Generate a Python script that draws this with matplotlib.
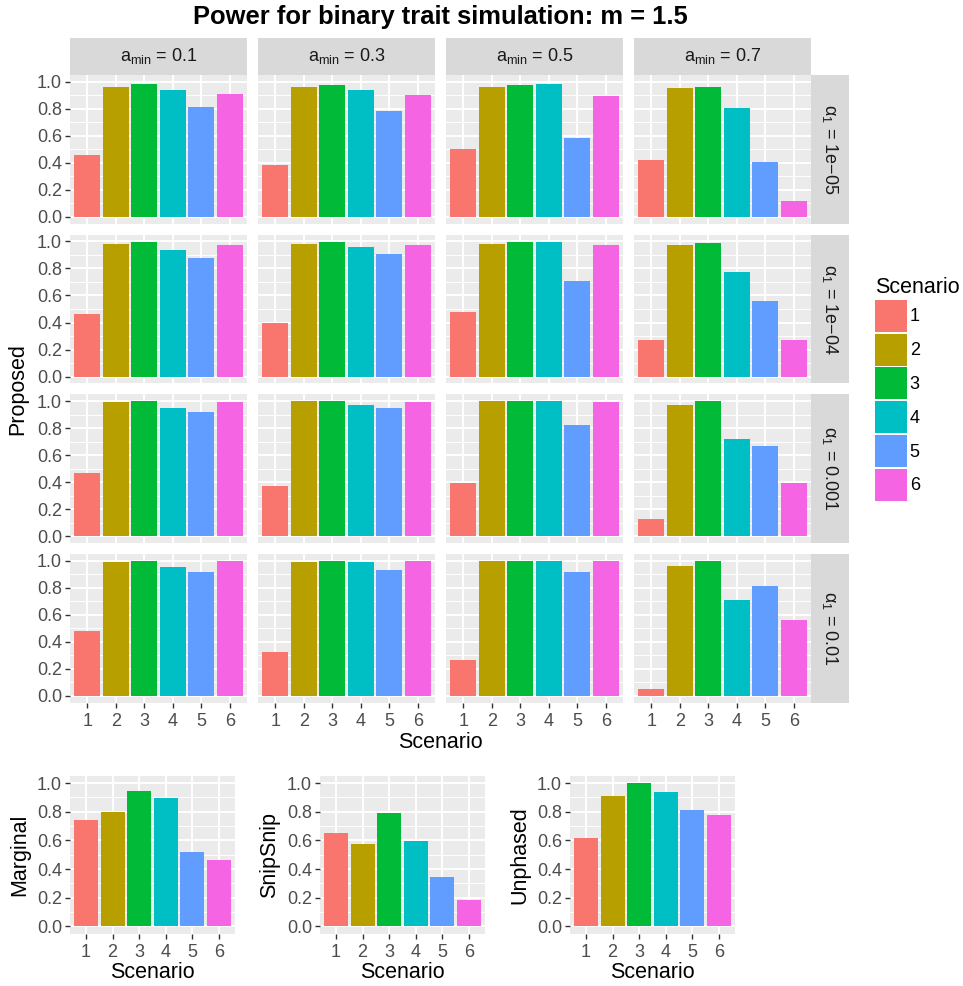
import matplotlib
matplotlib.use("Agg")
import matplotlib.pyplot as plt
from matplotlib.patches import Patch

plt.rcParams['font.family'] = ['Liberation Sans', 'DejaVu Sans']
plt.rcParams['mathtext.fontset'] = 'custom'
plt.rcParams['mathtext.rm'] = 'Liberation Sans'
plt.rcParams['mathtext.it'] = 'Liberation Sans:italic'
plt.rcParams['mathtext.bf'] = 'Liberation Sans:bold'

scenarios = [1, 2, 3, 4, 5, 6]
colors = ['#F8766D', '#B79F00', '#00BA38', '#00BFC4', '#619CFF', '#F564E3']
a_min = ['0.1', '0.3', '0.5', '0.7']
alpha1 = ['1e\u221205', '1e\u221204', '0.001', '0.01']

# power of the proposed test, one list per a_min column
proposed_1e05 = [[0.46, 0.96, 0.983, 0.939, 0.813, 0.909],
                 [0.386, 0.961, 0.975, 0.939, 0.784, 0.902],
                 [0.504, 0.961, 0.975, 0.983, 0.585, 0.894],
                 [0.423, 0.953, 0.961, 0.806, 0.408, 0.12]]
proposed_1e04 = [[0.464, 0.983, 0.998, 0.938, 0.879, 0.975],
                 [0.398, 0.983, 0.998, 0.96, 0.909, 0.975],
                 [0.479, 0.983, 0.998, 0.998, 0.709, 0.975],
                 [0.272, 0.975, 0.99, 0.775, 0.56, 0.272]]
proposed_1e03 = [[0.469, 0.993, 1.0, 0.948, 0.919, 0.993],
                 [0.373, 1.0, 1.0, 0.97, 0.948, 0.993],
                 [0.396, 1.0, 1.0, 1.0, 0.823, 0.993],
                 [0.13, 0.97, 1.0, 0.72, 0.668, 0.396]]
proposed_1e02 = [[0.481, 0.993, 1.0, 0.956, 0.919, 1.0],
                 [0.326, 0.993, 1.0, 0.993, 0.933, 1.0],
                 [0.267, 1.0, 1.0, 1.0, 0.919, 1.0],
                 [0.052, 0.963, 1.0, 0.711, 0.815, 0.563]]
proposed = [proposed_1e05, proposed_1e04, proposed_1e03, proposed_1e02]

marginal = [0.744, 0.8, 0.946, 0.897, 0.52, 0.464]
snipsnip = [0.653, 0.576, 0.793, 0.597, 0.345, 0.184]
unphased = [0.618, 0.911, 1.0, 0.939, 0.814, 0.779]

W, H = 963, 986
fig = plt.figure(figsize=(W / 100, H / 100), dpi=100)


def rect(x0, y0, w, h):
    # pixel box (from top-left) -> figure fraction
    return [x0 / W, 1 - (y0 + h) / H, w / W, h / H]


def fig_xy(x, y):
    return x / W, 1 - y / H


def style_panel(ax, show_x, show_y):
    ax.set_facecolor('#EBEBEB')
    for s in ax.spines.values():
        s.set_visible(False)
    ax.set_xlim(0.4, 6.6)
    ax.set_ylim(-0.05, 1.05)
    ax.set_xticks(scenarios)
    ax.set_yticks([0, 0.2, 0.4, 0.6, 0.8, 1.0])
    ax.set_yticks([0.1, 0.3, 0.5, 0.7, 0.9], minor=True)
    ax.grid(which='major', color='white', lw=1.4)
    ax.grid(which='minor', axis='y', color='white', lw=0.7)
    ax.set_axisbelow(True)
    ax.tick_params(which='minor', length=0)
    ax.tick_params(which='major', length=3.6, width=1.0, color='#333333',
                   labelcolor='#4D4D4D', labelsize=13, pad=2.2)
    ax.tick_params(axis='x', pad=3.8)
    if show_y:
        ax.set_yticklabels(['0.0', '0.2', '0.4', '0.6', '0.8', '1.0'])
    else:
        ax.tick_params(axis='y', left=False, labelleft=False)
    if not show_x:
        ax.tick_params(axis='x', bottom=False, labelbottom=False)


col_x = [70, 258, 446, 634]
pw = 177
ph = 148.6
row_y = [75 + i * 159.7 for i in range(4)]

for i in range(4):
    for j in range(4):
        ax = fig.add_axes(rect(col_x[j], row_y[i], pw, ph))
        ax.bar(scenarios, proposed[i][j], width=0.9, color=colors, linewidth=0)
        style_panel(ax, show_x=(i == 3), show_y=(j == 0))

# facet strips along the top
for j in range(4):
    sax = fig.add_axes(rect(col_x[j], 38, pw, 37))
    sax.set_facecolor('#D9D9D9')
    sax.set_xticks([])
    sax.set_yticks([])
    for s in sax.spines.values():
        s.set_visible(False)
    sax.text(0.5, 0.5, r'a$_{\mathrm{min}}$ = ' + a_min[j], ha='center', va='center',
             fontsize=13, color='#1A1A1A', transform=sax.transAxes)

# facet strips on the right
for i in range(4):
    sax = fig.add_axes(rect(811, row_y[i], 38, ph))
    sax.set_facecolor('#D9D9D9')
    sax.set_xticks([])
    sax.set_yticks([])
    for s in sax.spines.values():
        s.set_visible(False)
    sax.text(0.5, 0.5, r'$\mathrm{\alpha}_1$ = ' + alpha1[i], ha='center', va='center',
             rotation=270, fontsize=13, color='#1A1A1A', transform=sax.transAxes)

fig.text(*fig_xy(440, 17), 'Power for binary trait simulation: m = 1.5', ha='center',
         va='center', fontsize=18.4, fontweight='bold')
fig.text(*fig_xy(18, 389), 'Proposed', rotation=90, ha='center', va='center', fontsize=15.5)
fig.text(*fig_xy(440, 742), 'Scenario', ha='center', va='center', fontsize=15.5)

# legend
handles = [Patch(facecolor=c, label=str(s)) for s, c in zip(scenarios, colors)]
leg = fig.legend(handles=handles, title='Scenario', loc='upper left',
                 bbox_to_anchor=fig_xy(875, 277), borderaxespad=0,
                 frameon=False, fontsize=13, title_fontsize=15.5,
                 handlelength=1.77, handleheight=2.35, labelspacing=0.1,
                 handletextpad=0.15, borderpad=0, alignment='left')

# comparison methods
others = [('Marginal', marginal, 70, 20), ('SnipSnip', snipsnip, 320, 270),
          ('Unphased', unphased, 570, 520)]
for name, vals, x0, lx in others:
    ax = fig.add_axes(rect(x0, 776, 165, 157.5))
    ax.bar(scenarios, vals, width=0.9, color=colors, linewidth=0)
    style_panel(ax, show_x=True, show_y=True)
    fig.text(*fig_xy(lx, 855), name, rotation=90, ha='center', va='center', fontsize=15.5)
    fig.text(*fig_xy(x0 + 82.5, 973), 'Scenario', ha='center', va='center', fontsize=15.5)

fig.savefig('out.png', dpi=100)
